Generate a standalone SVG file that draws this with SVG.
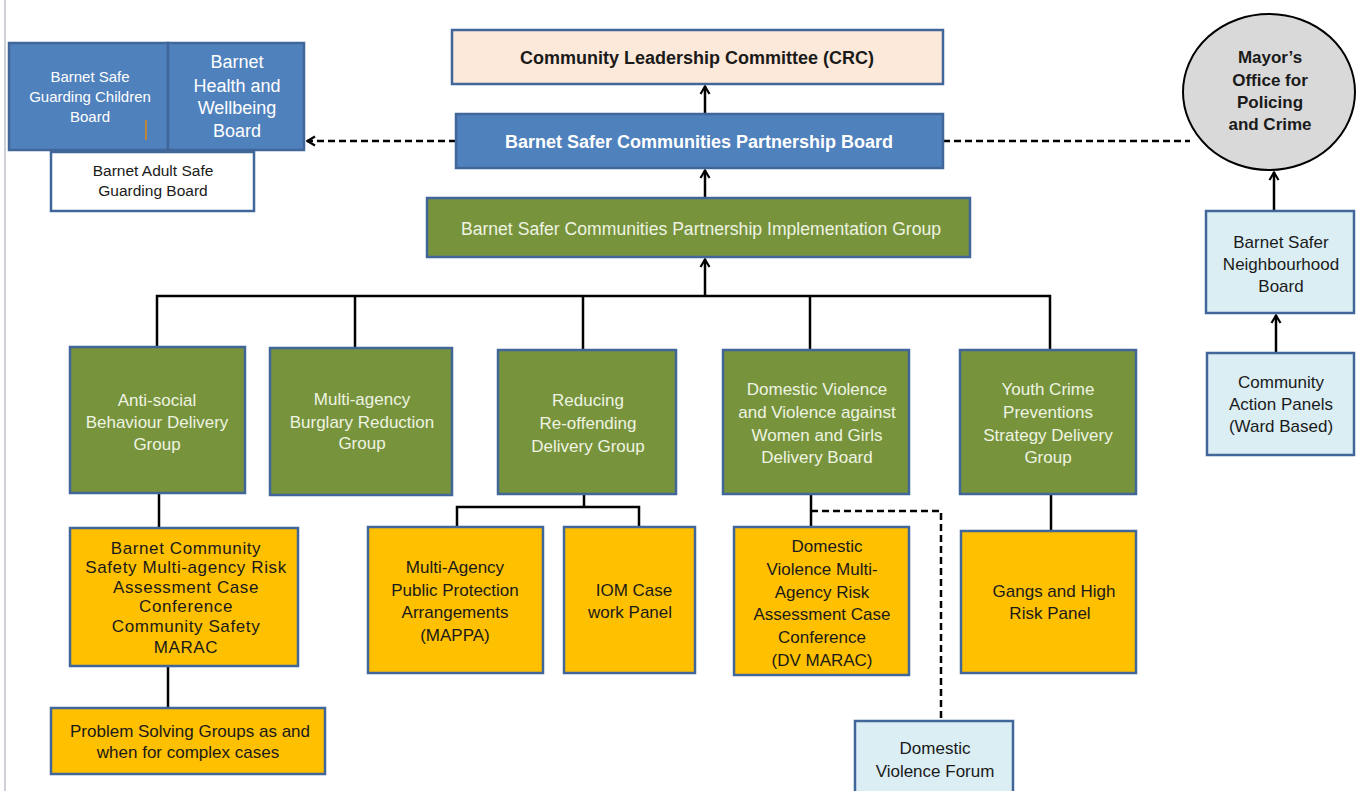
<svg xmlns="http://www.w3.org/2000/svg" width="1361" height="791" viewBox="0 0 1361 791">
<style>
  text { font-family: "Liberation Sans", Arial, sans-serif; text-anchor: middle; }
  .box { stroke: #41679a; stroke-width: 2.5; }
  .blue { fill: #4f81bd; }
  .green { fill: #77933c; }
  .yellow { fill: #ffc000; }
  .lblue { fill: #dbeef4; }
  .peach { fill: #fde9d9; }
  .white { fill: #ffffff; }
  .tw { fill: #ffffff; font-size: 17px; }
  .tg { fill: #eef3e2; font-size: 17px; }
  .td { fill: #1a1a1a; font-size: 17px; }
  .line { stroke: #000; stroke-width: 2.5; fill: none; }
  .dash { stroke: #000; stroke-width: 2.5; fill: none; stroke-dasharray: 7 4; }
</style>
<defs>
  <marker id="arr" viewBox="0 0 12 12" refX="11" refY="6" markerWidth="12" markerHeight="12" markerUnits="userSpaceOnUse" orient="auto">
    <polyline points="3,1.5 10.5,6 3,10.5" fill="none" stroke="#000" stroke-width="2.2"/>
  </marker>
</defs>
<rect width="1361" height="791" fill="#ffffff"/>
<line x1="5" y1="0" x2="5" y2="791" stroke="#bcc0c8" stroke-width="1.5"/>

<g id="connectors">
  <line class="line" x1="705" y1="114" x2="705" y2="86" marker-end="url(#arr)"/>
  <line class="line" x1="705" y1="198" x2="705" y2="170" marker-end="url(#arr)"/>
  <line class="line" x1="705" y1="296" x2="705" y2="259" marker-end="url(#arr)"/>
  <line class="dash" x1="456" y1="141" x2="307" y2="141" marker-end="url(#arr)"/>
  <line class="dash" x1="943" y1="141" x2="1190" y2="141"/>
  <polyline class="line" points="157,347 157,296 1050,296 1050,349"/>
  <line class="line" x1="355" y1="296" x2="355" y2="348"/>
  <line class="line" x1="583" y1="296" x2="583" y2="350"/>
  <line class="line" x1="810" y1="296" x2="810" y2="350"/>
  <line class="line" x1="159" y1="493" x2="159" y2="528"/>
  <line class="line" x1="168" y1="666" x2="168" y2="708"/>
  <line class="line" x1="584" y1="494" x2="584" y2="507"/>
  <polyline class="line" points="457,527 457,507 639,507 639,527"/>
  <line class="line" x1="811" y1="494" x2="811" y2="527"/>
  <polyline class="dash" points="811,511 941,511 941,721"/>
  <line class="line" x1="1051" y1="494" x2="1051" y2="531"/>
  <line class="line" x1="1274" y1="211" x2="1274" y2="172" marker-end="url(#arr)"/>
  <line class="line" x1="1276" y1="353" x2="1276" y2="315" marker-end="url(#arr)"/>
</g>

<g id="safeguarding-children">
  <rect class="box blue" x="9" y="43" width="159" height="107"/>
  <text class="tw" style="font-size:15px" x="90" y="82">Barnet Safe</text>
  <text class="tw" style="font-size:15px" x="90" y="102">Guarding Children</text>
  <text class="tw" style="font-size:15px" x="90" y="122">Board</text>
  <line x1="146" y1="120" x2="146" y2="140" stroke="#c0843a" stroke-width="2"/>
</g>
<g id="health-wellbeing">
  <rect class="box blue" x="168" y="43" width="136" height="107"/>
  <text class="tw" style="font-size:18px" x="237" y="68">Barnet</text>
  <text class="tw" style="font-size:18px" x="237" y="92">Health and</text>
  <text class="tw" style="font-size:18px" x="237" y="114">Wellbeing</text>
  <text class="tw" style="font-size:18px" x="237" y="137">Board</text>
</g>
<g id="adult-safeguarding">
  <rect class="box white" x="51" y="152" width="203" height="59"/>
  <text class="td" style="font-size:15.5px" x="153" y="176">Barnet Adult Safe</text>
  <text class="td" style="font-size:15.5px" x="153" y="196">Guarding Board</text>
</g>

<g id="crc">
  <rect class="box peach" x="452" y="30" width="491" height="54"/>
  <text class="td" style="font-size:18px;font-weight:bold" x="697" y="64">Community Leadership Committee (CRC)</text>
</g>
<g id="partnership-board">
  <rect class="box blue" x="456" y="114" width="487" height="54"/>
  <text class="tw" style="font-size:18px;font-weight:bold" x="699" y="148">Barnet Safer Communities Partnership Board</text>
</g>
<g id="implementation-group">
  <rect class="box green" x="427" y="198" width="543" height="59"/>
  <text class="tg" style="font-size:17.6px" x="701" y="235">Barnet Safer Communities Partnership Implementation Group</text>
</g>

<g id="mopac">
  <ellipse cx="1269" cy="92" rx="86" ry="78" fill="#d9d9d9" stroke="#000" stroke-width="2"/>
  <text class="td" style="font-weight:bold" x="1270" y="63">Mayor’s</text>
  <text class="td" style="font-weight:bold" x="1270" y="86">Office for</text>
  <text class="td" style="font-weight:bold" x="1270" y="108">Policing</text>
  <text class="td" style="font-weight:bold" x="1270" y="130">and Crime</text>
</g>
<g id="neighbourhood-board">
  <rect class="box lblue" x="1206" y="211" width="148" height="102"/>
  <text class="td" x="1281" y="248">Barnet Safer</text>
  <text class="td" x="1281" y="270">Neighbourhood</text>
  <text class="td" x="1281" y="292">Board</text>
</g>
<g id="community-action-panels">
  <rect class="box lblue" x="1207" y="353" width="147" height="102"/>
  <text class="td" x="1281" y="388">Community</text>
  <text class="td" x="1281" y="410">Action Panels</text>
  <text class="td" x="1281" y="432">(Ward Based)</text>
</g>

<g id="asb-group">
  <rect class="box green" x="70" y="347" width="175" height="146"/>
  <text class="tg" x="157" y="406">Anti-social</text>
  <text class="tg" x="157" y="428">Behaviour Delivery</text>
  <text class="tg" x="157" y="450">Group</text>
</g>
<g id="burglary-group">
  <rect class="box green" x="270" y="348" width="182" height="147"/>
  <text class="tg" x="362" y="405">Multi-agency</text>
  <text class="tg" x="362" y="428">Burglary Reduction</text>
  <text class="tg" x="362" y="449">Group</text>
</g>
<g id="reoffending-group">
  <rect class="box green" x="498" y="350" width="178" height="144"/>
  <text class="tg" x="588" y="406">Reducing</text>
  <text class="tg" x="588" y="429">Re-offending</text>
  <text class="tg" x="588" y="452">Delivery Group</text>
</g>
<g id="dv-board">
  <rect class="box green" x="723" y="350" width="186" height="144"/>
  <text class="tg" x="817" y="395">Domestic Violence</text>
  <text class="tg" x="817" y="418">and Violence against</text>
  <text class="tg" x="817" y="441">Women and Girls</text>
  <text class="tg" x="817" y="463">Delivery Board</text>
</g>
<g id="youth-crime-group">
  <rect class="box green" x="960" y="350" width="176" height="144"/>
  <text class="tg" x="1048" y="395">Youth Crime</text>
  <text class="tg" x="1048" y="418">Preventions</text>
  <text class="tg" x="1048" y="441">Strategy Delivery</text>
  <text class="tg" x="1048" y="463">Group</text>
</g>

<g id="cs-marac">
  <rect class="box yellow" x="70" y="528" width="228" height="138"/>
  <text class="td" style="letter-spacing:0.6px" x="186" y="554">Barnet Community</text>
  <text class="td" style="letter-spacing:0.6px" x="186" y="573">Safety Multi-agency Risk</text>
  <text class="td" style="letter-spacing:0.6px" x="186" y="593">Assessment Case</text>
  <text class="td" style="letter-spacing:0.6px" x="186" y="612">Conference</text>
  <text class="td" style="letter-spacing:0.6px" x="186" y="632">Community Safety</text>
  <text class="td" style="letter-spacing:0.6px" x="186" y="653">MARAC</text>
</g>
<g id="problem-solving">
  <rect class="box yellow" x="51" y="708" width="274" height="66"/>
  <text class="td" x="190" y="737">Problem Solving Groups as and</text>
  <text class="td" x="188" y="758">when for complex cases</text>
</g>
<g id="mappa">
  <rect class="box yellow" x="368" y="527" width="175" height="146"/>
  <text class="td" x="455" y="573">Multi-Agency</text>
  <text class="td" x="455" y="596">Public Protection</text>
  <text class="td" x="455" y="618">Arrangements</text>
  <text class="td" x="455" y="641">(MAPPA)</text>
</g>
<g id="iom">
  <rect class="box yellow" x="564" y="527" width="131" height="146"/>
  <text class="td" x="634" y="596">IOM Case</text>
  <text class="td" x="630" y="618">work Panel</text>
</g>
<g id="dv-marac">
  <rect class="box yellow" x="734" y="527" width="175" height="148"/>
  <text class="td" x="827" y="552">Domestic</text>
  <text class="td" x="822" y="575">Violence Multi-</text>
  <text class="td" x="822" y="598">Agency Risk</text>
  <text class="td" x="822" y="620">Assessment Case</text>
  <text class="td" x="822" y="643">Conference</text>
  <text class="td" x="822" y="666">(DV MARAC)</text>
</g>
<g id="gangs-panel">
  <rect class="box yellow" x="961" y="531" width="175" height="142"/>
  <text class="td" x="1054" y="597">Gangs and High</text>
  <text class="td" x="1050" y="619">Risk Panel</text>
</g>
<g id="dv-forum">
  <rect class="box lblue" x="855" y="721" width="158" height="80"/>
  <text class="td" x="935" y="754">Domestic</text>
  <text class="td" x="935" y="777">Violence Forum</text>
</g>
</svg>
